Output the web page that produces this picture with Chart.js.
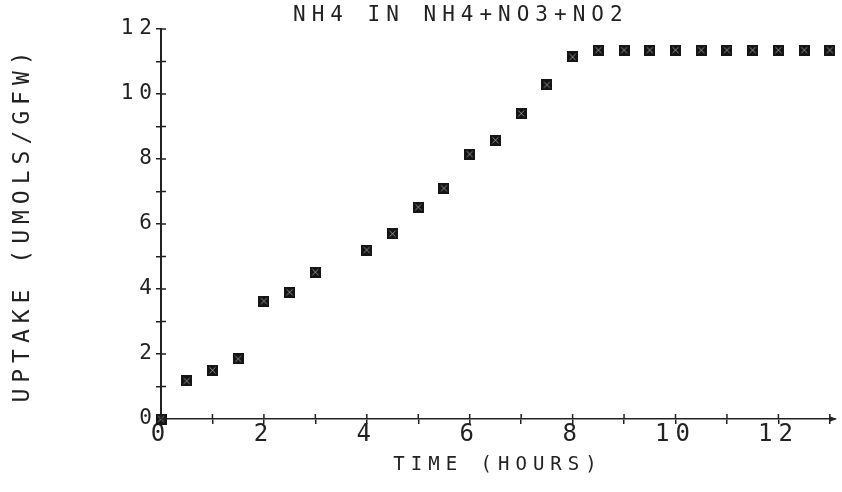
<!DOCTYPE html>
<html>
<head>
<meta charset="utf-8">
<script src="https://cdn.jsdelivr.net/npm/chart.js@4"></script>
<style>
    html, body { margin: 0; padding: 0; background: #ffffff; }
    #wrap { width: 842px; height: 492px; }
</style>
</head>
<body>
<div id="wrap"><canvas id="uptakeChart" width="842" height="492"></canvas></div>
<script>
const chartTitle = 'NH4 IN NH4+NO3+NO2';
const xTitle = 'TIME (HOURS)';
const yTitle = 'UPTAKE (UMOLS/GFW)';

// hours
const times = [0, 0.5, 1, 1.5, 2, 2.5, 3, 4, 4.5, 5, 5.5, 6, 6.5, 7, 7.5, 8,
    8.5, 9, 9.5, 10, 10.5, 11, 11.5, 12, 12.5, 13];
// umols / gfw
const uptake = [0, 1.17, 1.5, 1.85, 3.63, 3.9, 4.52, 5.2, 5.7, 6.52, 7.1, 8.15, 8.58, 9.4, 10.28, 11.14,
    11.35, 11.35, 11.35, 11.35, 11.35, 11.35, 11.35, 11.35, 11.35, 11.35];

const xTickLabels = ['0', '2', '4', '6', '8', '10', '12'];
const yTickLabels = ['0', '2', '4', '6', '8', '10', '12'];

const ink = '#222222';
Chart.defaults.font.family = '"DejaVu Sans Mono", monospace';
Chart.defaults.color = ink;

// square marker with a faint cross, like the plotter symbol
function makeMarker() {
    const c = document.createElement('canvas');
    c.width = 11;
    c.height = 11;
    const g = c.getContext('2d');
    g.fillStyle = '#151515';
    g.fillRect(0, 0, 11, 11);
    g.strokeStyle = 'rgba(255, 255, 255, 0.5)';
    g.lineWidth = 1;
    g.beginPath();
    g.moveTo(2.5, 2.5); g.lineTo(8.5, 8.5);
    g.moveTo(8.5, 2.5); g.lineTo(2.5, 8.5);
    g.stroke();
    return c;
}

// cross ticks, arrow on the time axis, and the title
const plotterMarks = {
    id: 'plotterMarks',
    beforeDraw(chart) {
        chart.ctx.letterSpacing = '6px';
    },
    afterDraw(chart) {
        const { ctx, chartArea, scales: { x, y } } = chart;
        ctx.save();
        ctx.strokeStyle = ink;
        ctx.fillStyle = ink;
        ctx.lineWidth = 1.5;
        ctx.beginPath();
        x.ticks.forEach(t => {
            const px = x.getPixelForValue(t.value);
            ctx.moveTo(px, chartArea.bottom);
            ctx.lineTo(px, chartArea.bottom - 5);
        });
        y.ticks.forEach(t => {
            const py = y.getPixelForValue(t.value);
            ctx.moveTo(chartArea.left, py);
            ctx.lineTo(chartArea.left + 5, py);
        });
        ctx.stroke();

        ctx.beginPath();
        ctx.moveTo(chartArea.right + 2, chartArea.bottom);
        ctx.lineTo(chartArea.right - 6, chartArea.bottom - 3);
        ctx.lineTo(chartArea.right - 6, chartArea.bottom + 3);
        ctx.closePath();
        ctx.fill();

        ctx.letterSpacing = '6px';
        ctx.font = '21px "DejaVu Sans Mono"';
        ctx.textAlign = 'left';
        ctx.textBaseline = 'middle';
        ctx.fillText(chartTitle, 293, 16);
        ctx.restore();
    }
};

const ctx = document.getElementById('uptakeChart').getContext('2d');

new Chart(ctx, {
    type: 'scatter',
    data: {
        datasets: [{
            label: chartTitle,
            data: times.map((t, i) => ({ x: t, y: uptake[i] })),
            pointStyle: makeMarker(),
            pointRadius: 6,
            clip: false
        }]
    },
    options: {
        responsive: false,
        animation: false,
        layout: {
            padding: { top: 29, right: 7, left: 0, bottom: 0 }
        },
        plugins: {
            legend: { display: false },
            tooltip: { enabled: false }
        },
        scales: {
            x: {
                type: 'linear',
                min: 0,
                max: 13.1,
                afterFit: s => { s.height = 73; },
                grid: {
                    drawOnChartArea: false,
                    tickLength: 5,
                    color: ink,
                    lineWidth: 1.5
                },
                border: { color: ink, width: 1.5 },
                ticks: {
                    stepSize: 1,
                    includeBounds: false,
                    autoSkip: false,
                    maxRotation: 0,
                    padding: -4,
                    color: ink,
                    font: { size: 24 },
                    callback: v => (v % 2 === 0 ? xTickLabels[v / 2] : '')
                },
                title: {
                    display: true,
                    text: xTitle,
                    color: ink,
                    font: { size: 19 },
                    padding: { top: 0, bottom: 16 }
                }
            },
            y: {
                type: 'linear',
                min: 0,
                max: 12,
                afterFit: s => { s.width = 161; },
                grid: {
                    drawOnChartArea: false,
                    tickLength: 5,
                    color: ink,
                    lineWidth: 1.5
                },
                border: { color: ink, width: 2 },
                ticks: {
                    stepSize: 1,
                    autoSkip: false,
                    padding: -2,
                    color: ink,
                    font: { size: 21 },
                    callback: v => (v % 2 === 0 ? yTickLabels[v / 2] : '')
                },
                title: {
                    display: true,
                    text: yTitle,
                    color: ink,
                    font: { size: 23 },
                    padding: { top: 9, bottom: 0 }
                }
            }
        }
    },
    plugins: [plotterMarks]
});
</script>
</body>
</html>
